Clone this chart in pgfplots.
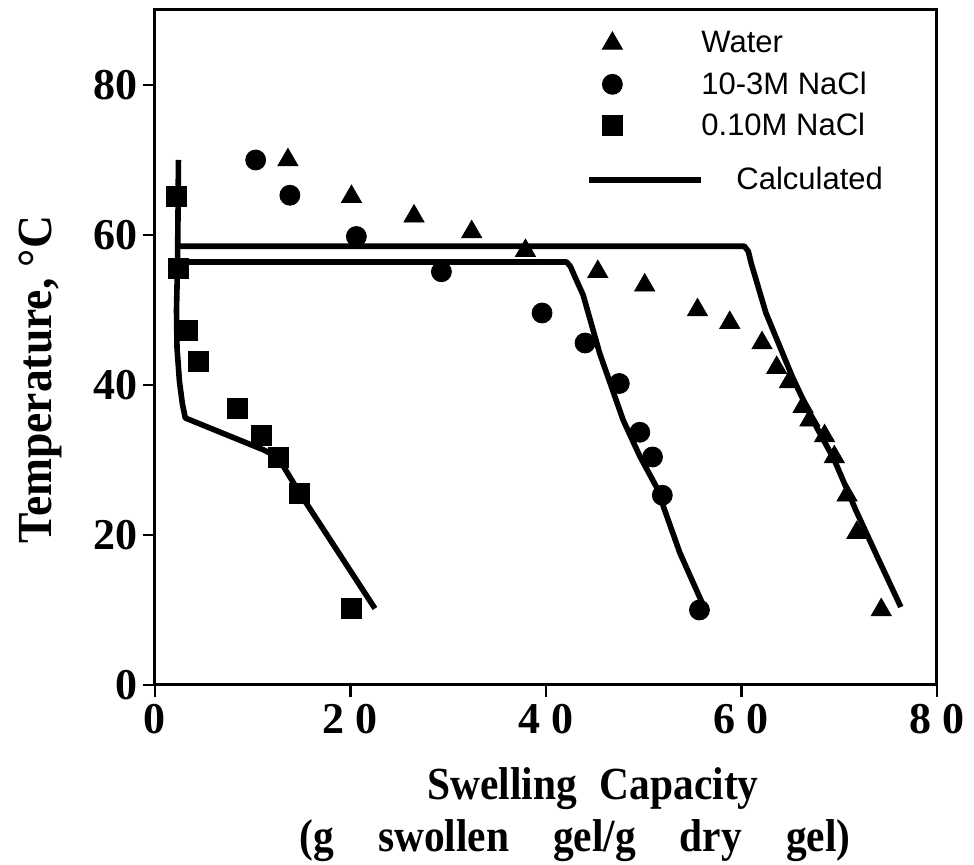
\documentclass[border=0pt]{standalone}
\usepackage{fontspec}
\setmainfont{Liberation Serif}[FakeStretch=0.9]
\newfontfamily\tickfont{Liberation Serif}
\newfontfamily\ylabfont{Liberation Serif}[FakeStretch=0.93]
\newfontfamily\legfont{Liberation Sans}
\usepackage{pgfplots}
\pgfplotsset{compat=1.18}

\newcommand\ticklabfont{\tickfont\fontsize{22}{24}\selectfont\bfseries}
\newcommand\axlabfont{\fontsize{23}{26}\selectfont\bfseries}

\pgfplotsset{
  markleg/.style={legend image code/.code={%
    \path[draw=none] (0pt,0pt) -- (54pt,0pt);
    \draw[##1] plot[only marks] coordinates {(11.5pt,0pt)};}},
  lineleg/.style={legend image code/.code={%
    \path[draw=none] (0pt,0pt) -- (54pt,0pt);
    \begin{pgfinterruptboundingbox}
    \draw[##1] (0pt,-6.5pt) -- (56pt,-6.5pt);
    \end{pgfinterruptboundingbox}}},
}

\begin{document}
\begin{tikzpicture}
\path[use as bounding box] (-77.5pt,-90pt) rectangle (409.5pt,342.5pt);
\begin{axis}[
  at={(0pt,0pt)}, anchor=south west,
  scale only axis, width=391pt, height=337.5pt,
  xmin=0, xmax=80, ymin=0, ymax=90,
  axis line style={line width=1.5pt},
  every tick/.style={black, line width=1.3pt},
  tick align=outside, tick pos=left,
  major tick length=6pt,
  xtick={0,20,40,60,80},
  xticklabels={0,2 0,4 0,6 0,8 0},
  ytick={0,20,40,60,80},
  tick label style={font=\ticklabfont},
  yticklabel style={xshift=1pt},
  /pgf/number format/assume math mode=true,
  xlabel={\hspace*{18pt}Swelling\hspace{0.5em}Capacity\\(g\hspace{22pt}swollen\hspace{22pt}gel/g\hspace{22pt}dry\hspace{22pt}gel)},
  ylabel={Temperature, °C},
  xlabel style={font=\axlabfont, align=center, xshift=14.5pt, yshift=-10pt},
  ylabel style={font=\ylabfont\fontsize{24.5}{27}\selectfont\bfseries,
    at={(ticklabel cs:0.4525,9pt)}},
  legend style={at={(rel axis cs:0.555,0.975)}, anchor=north west,
    draw=none, fill=none, font=\legfont\fontsize{15.5}{18}\selectfont,
    row sep=4pt, column sep=0pt, inner sep=0pt},
  legend cell align=left,
]
% measured swelling data
\addplot[only marks, mark=triangle*, mark size=5.8pt, black, markleg]
  coordinates {(13.6,70.0) (20.1,65.1) (26.5,62.5) (32.4,60.4) (37.9,57.9)
    (45.3,55.1) (50.1,53.3) (55.5,50.0) (58.8,48.3) (62.1,45.6) (63.6,42.3)
    (64.9,40.4) (66.3,37.1) (67.0,35.3) (68.5,33.2) (69.5,30.4) (70.8,25.3)
    (71.8,20.3) (74.3,10.0)};
\addlegendentry{Water}
\addplot[only marks, mark=*, mark size=5pt, black, markleg]
  coordinates {(10.3,70.0) (13.8,65.3) (20.6,59.8) (29.3,55.1) (39.6,49.6)
    (44.0,45.6) (47.5,40.2) (49.6,33.7) (50.9,30.4) (51.9,25.3) (55.7,10.0)};
\addlegendentry{10-3M NaCl}
\addplot[only marks, mark=square*, mark size=5pt, black, markleg]
  coordinates {(2.2,65.1) (2.4,55.6) (3.3,47.3) (4.4,43.1) (8.4,36.9)
    (10.9,33.3) (12.6,30.4) (14.8,25.6) (20.1,10.2)};
\addlegendentry{0.10M NaCl}
% model curves
\addplot[black, line width=2.8pt, line join=round, no marks, lineleg]
  coordinates {(2.4,58.5) (60.3,58.5) (60.7,57.8) (61.0,56.2) (62.5,49.6)
    (65.2,41.1) (67.3,35.3) (69.5,30.0) (71.7,23.3) (74.0,16.8) (76.3,10.4)};
\addlegendentry{\raisebox{-6.5pt}[\height][\depth]{\hspace{17.5pt}Calculated}}
\addplot[black, line width=2.8pt, line join=round, no marks, forget plot]
  coordinates {(2.4,56.4) (42.1,56.4) (42.5,55.8) (42.9,54.6) (43.8,52.0)
    (45.5,44.2) (47.9,35.3) (49.6,30.5) (51.3,26.4) (53.7,17.6) (56.2,10.3)};
\addplot[black, line width=2.8pt, line join=round, no marks, forget plot]
  coordinates {(2.4,70) (2.35,62) (2.3,56) (2.2,50) (2.25,45) (2.5,40.5)
    (2.8,37.5) (3.1,35.6) (11.2,31.3) (12.6,30.3) (14.8,25.6) (17.9,19.4)
    (22.5,10.2)};
\end{axis}
\end{tikzpicture}
\end{document}
